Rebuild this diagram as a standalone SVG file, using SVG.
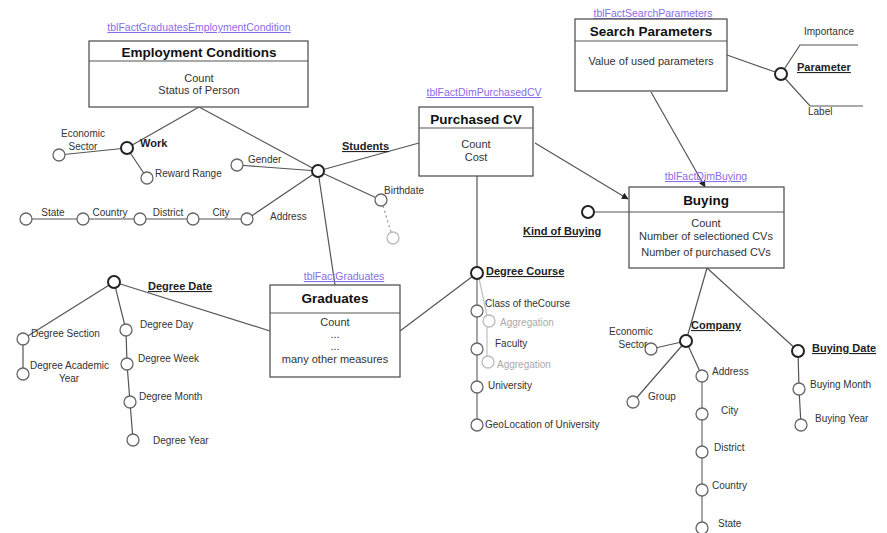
<svg xmlns="http://www.w3.org/2000/svg" width="887" height="533" viewBox="0 0 887 533">
<style>
.bx{fill:#fff;stroke:#555;stroke-width:1.3}
.ln{stroke:#555;stroke-width:1.2;fill:none}
.gl{stroke:#888;stroke-width:1.5;fill:none}
.ll{stroke:#c4c4c4;stroke-width:1.3;fill:none}
.c{fill:#fff;stroke:#666;stroke-width:1.3}
.h{fill:#fff;stroke:#222;stroke-width:2}
.gc{fill:#fff;stroke:#bbb;stroke-width:1.3}
text{font-family:"Liberation Sans",Arial,sans-serif}
.t{font-size:10px;fill:#333}
.g{font-size:10px;fill:#aaa}
.hb{font-size:11px;font-weight:bold;fill:#222;text-decoration:underline}
.ti{font-size:13.5px;font-weight:bold;fill:#111;text-anchor:middle}
.bd{font-size:11px;fill:#333;text-anchor:middle}
.lb{font-size:10.5px;fill:#8a6ce8;text-anchor:middle;text-decoration:underline}
</style>
<defs>
<marker id="ar" viewBox="0 0 10 10" refX="9" refY="5" markerWidth="7" markerHeight="7" orient="auto" markerUnits="userSpaceOnUse">
<path d="M0,0 L10,5 L0,10 z" fill="#222"/>
</marker>
</defs>
<g id="connectors">
<line class="ln" x1="199" y1="107" x2="127" y2="148"/>
<line class="ln" x1="199" y1="107" x2="318" y2="171"/>
<line class="ln" x1="127" y1="148" x2="59" y2="155"/>
<line class="ln" x1="127" y1="148" x2="147" y2="178"/>
<line class="ln" x1="237" y1="165" x2="318" y2="171"/>
<line class="ln" x1="318" y1="171" x2="419" y2="143"/>
<line class="ln" x1="318" y1="171" x2="381" y2="200"/>
<line class="ln" x1="318" y1="171" x2="247" y2="219"/>
<line class="ln" x1="318" y1="171" x2="335" y2="285"/>
<line x1="383" y1="206" x2="391" y2="232" stroke="#999" stroke-width="1.3" stroke-dasharray="2,3"/>
<line class="ln" x1="26" y1="219" x2="247" y2="219"/>
<line class="ln" x1="114" y1="282" x2="23" y2="339"/>
<line class="ln" x1="114" y1="282" x2="126" y2="330"/>
<line class="ln" x1="114" y1="282" x2="270" y2="331"/>
<line class="ln" x1="23" y1="339" x2="23" y2="374"/>
<polyline class="ln" points="126,330 127,364 130,402 133,440"/>
<line class="ln" x1="400" y1="331" x2="477" y2="273"/>
<line class="ln" x1="477" y1="176" x2="477" y2="273"/>
<line class="gl" x1="477" y1="273" x2="477" y2="425"/>
<line class="ll" x1="479" y1="278" x2="487" y2="316"/>
<line class="ll" x1="487" y1="327" x2="487" y2="357"/>
<line class="ln" x1="535" y1="143" x2="628" y2="199" marker-end="url(#ar)"/>
<line class="ln" x1="651" y1="92" x2="705" y2="187" marker-end="url(#ar)"/>
<line class="ln" x1="727" y1="55" x2="781" y2="74"/>
<polyline class="ln" points="781,74 800,45 858,45"/>
<polyline class="ln" points="781,74 810,106 863,106"/>
<line class="ln" x1="588" y1="212" x2="629" y2="212"/>
<line class="ln" x1="707" y1="268" x2="686" y2="341"/>
<line class="ln" x1="707" y1="268" x2="798" y2="351"/>
<line class="ln" x1="686" y1="341" x2="651" y2="349"/>
<line class="ln" x1="686" y1="341" x2="633" y2="402"/>
<line class="ln" x1="686" y1="341" x2="702" y2="376"/>
<line class="gl" x1="702" y1="376" x2="702" y2="528"/>
<polyline class="ln" points="798,351 799,389 801,425"/>
</g>
<g id="employment">
<text class="lb" x="199" y="31">tblFactGraduatesEmploymentCondition</text>
<rect class="bx" x="89" y="41" width="219" height="66"/>
<line class="ln" x1="89" y1="61" x2="308" y2="61"/>
<text class="ti" x="199" y="57">Employment Conditions</text>
<text class="bd" x="199" y="82">Count</text>
<text class="bd" x="199" y="94">Status of Person</text>
</g>
<g id="purchased">
<text class="lb" x="484" y="96">tblFactDimPurchasedCV</text>
<rect class="bx" x="419" y="107" width="114" height="69"/>
<line class="ln" x1="419" y1="128" x2="533" y2="128"/>
<text class="ti" x="476" y="124">Purchased CV</text>
<text class="bd" x="476" y="148">Count</text>
<text class="bd" x="476" y="161">Cost</text>
</g>
<g id="search">
<text class="lb" x="653" y="17">tblFactSearchParameters</text>
<rect class="bx" x="575" y="19" width="152" height="72"/>
<line class="ln" x1="575" y1="41" x2="727" y2="41"/>
<text class="ti" x="651" y="36">Search Parameters</text>
<text class="bd" x="651" y="65">Value of used parameters</text>
</g>
<g id="buying">
<text class="lb" x="706" y="180">tblFactDimBuying</text>
<rect class="bx" x="629" y="187" width="155" height="81"/>
<line class="ln" x1="629" y1="212" x2="784" y2="212"/>
<text class="ti" x="706" y="205">Buying</text>
<text class="bd" x="706" y="227">Count</text>
<text class="bd" x="706" y="240">Number of selectioned CVs</text>
<text class="bd" x="706" y="256">Number of purchased CVs</text>
</g>
<g id="graduates">
<text class="lb" x="344" y="280">tblFactGraduates</text>
<rect class="bx" x="270" y="285" width="130" height="92"/>
<line class="ln" x1="270" y1="313" x2="400" y2="313"/>
<text class="ti" x="335" y="303">Graduates</text>
<text class="bd" x="335" y="326">Count</text>
<text class="bd" x="335" y="338">...</text>
<text class="bd" x="335" y="350">...</text>
<text class="bd" x="335" y="363">many other measures</text>
</g>
<g id="work">
<circle class="h" cx="127" cy="148" r="6"/>
<text class="hb" x="140" y="147" style="text-decoration:none">Work</text>
<circle class="c" cx="59" cy="155" r="6"/>
<text class="t" x="83" y="137" text-anchor="middle">Economic</text>
<text class="t" x="83" y="150" text-anchor="middle">Sector</text>
<circle class="c" cx="147" cy="178" r="6"/>
<text class="t" x="155" y="177">Reward Range</text>
</g>
<g id="students">
<circle class="h" cx="318" cy="171" r="6"/>
<text class="hb" x="342" y="150">Students</text>
<circle class="c" cx="237" cy="165" r="6"/>
<text class="t" x="248" y="163">Gender</text>
<circle class="c" cx="381" cy="200" r="6"/>
<text class="t" x="384" y="194">Birthdate</text>
<circle class="gc" cx="393" cy="238" r="6"/>
<circle class="c" cx="247" cy="219" r="6"/>
<text class="t" x="270" y="220">Address</text>
<circle class="c" cx="193" cy="219" r="6"/>
<text class="t" x="221" y="216" text-anchor="middle">City</text>
<circle class="c" cx="140" cy="219" r="6"/>
<text class="t" x="168" y="216" text-anchor="middle">District</text>
<circle class="c" cx="83" cy="219" r="6"/>
<text class="t" x="110" y="216" text-anchor="middle">Country</text>
<circle class="c" cx="26" cy="219" r="6"/>
<text class="t" x="53" y="216" text-anchor="middle">State</text>
</g>
<g id="degreedate">
<circle class="h" cx="114" cy="282" r="6"/>
<text class="hb" x="148" y="290">Degree Date</text>
<circle class="c" cx="23" cy="339" r="6"/>
<text class="t" x="31" y="337">Degree Section</text>
<circle class="c" cx="23" cy="374" r="6"/>
<text class="t" x="30" y="369">Degree Academic</text>
<text class="t" x="69" y="382" text-anchor="middle">Year</text>
<circle class="c" cx="126" cy="330" r="6"/>
<text class="t" x="140" y="328">Degree Day</text>
<circle class="c" cx="127" cy="364" r="6"/>
<text class="t" x="138" y="362">Degree Week</text>
<circle class="c" cx="130" cy="402" r="6"/>
<text class="t" x="139" y="400">Degree Month</text>
<circle class="c" cx="133" cy="440" r="6"/>
<text class="t" x="153" y="444">Degree Year</text>
</g>
<g id="degreecourse">
<circle class="h" cx="477" cy="273" r="6"/>
<text class="hb" x="486" y="275">Degree Course</text>
<circle class="c" cx="477" cy="311" r="6"/>
<text class="t" x="485" y="307">Class of theCourse</text>
<circle class="gc" cx="489" cy="321" r="6"/>
<text class="g" x="500" y="326">Aggregation</text>
<circle class="c" cx="477" cy="349" r="6"/>
<text class="t" x="495" y="347">Faculty</text>
<circle class="gc" cx="488" cy="362" r="6"/>
<text class="g" x="497" y="368">Aggregation</text>
<circle class="c" cx="477" cy="387" r="6"/>
<text class="t" x="488" y="389">University</text>
<circle class="c" cx="477" cy="425" r="6"/>
<text class="t" x="485" y="428">GeoLocation of University</text>
</g>
<g id="parameter">
<circle class="h" cx="781" cy="74" r="6"/>
<text class="hb" x="797" y="71">Parameter</text>
<text class="t" x="804" y="35">Importance</text>
<text class="t" x="808" y="115">Label</text>
</g>
<g id="kindofbuying">
<circle class="h" cx="588" cy="212" r="6"/>
<text class="hb" x="523" y="235">Kind of Buying</text>
</g>
<g id="company">
<circle class="h" cx="686" cy="341" r="6"/>
<text class="hb" x="691" y="329">Company</text>
<circle class="c" cx="651" cy="349" r="6"/>
<text class="t" x="631" y="335" text-anchor="middle">Economic</text>
<text class="t" x="633" y="348" text-anchor="middle">Sector</text>
<circle class="c" cx="633" cy="402" r="6"/>
<text class="t" x="648" y="400">Group</text>
<circle class="c" cx="702" cy="376" r="6"/>
<text class="t" x="712" y="375">Address</text>
<circle class="c" cx="702" cy="414" r="6"/>
<text class="t" x="721" y="414">City</text>
<circle class="c" cx="702" cy="452" r="6"/>
<text class="t" x="714" y="451">District</text>
<circle class="c" cx="702" cy="490" r="6"/>
<text class="t" x="712" y="489">Country</text>
<circle class="c" cx="702" cy="528" r="6"/>
<text class="t" x="718" y="527">State</text>
</g>
<g id="buyingdate">
<circle class="h" cx="798" cy="351" r="6"/>
<text class="hb" x="812" y="352">Buying Date</text>
<circle class="c" cx="799" cy="389" r="6"/>
<text class="t" x="810" y="388">Buying Month</text>
<circle class="c" cx="801" cy="425" r="6"/>
<text class="t" x="815" y="422">Buying Year</text>
</g>
</svg>
